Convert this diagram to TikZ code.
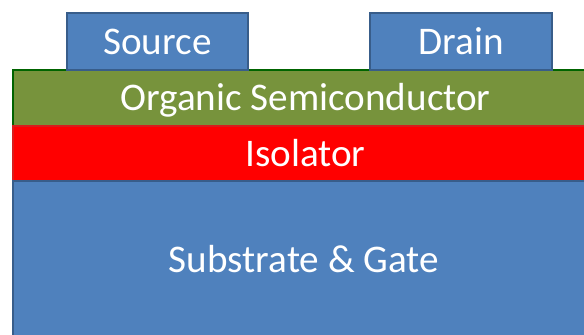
\documentclass[tikz,border=0pt]{standalone}
\usepackage{fontspec}
\setmainfont{Carlito}
\usetikzlibrary{positioning}
\definecolor{layblue}{HTML}{4F81BD}
\definecolor{layblueline}{HTML}{385D8A}
\definecolor{laygreen}{HTML}{77933C}
\definecolor{laygreenline}{HTML}{006400}
\definecolor{layred}{HTML}{FF0000}
\definecolor{layredline}{HTML}{C0302F}
\tikzset{
  labeltext/.style={text=white,font=\fontsize{39.3}{41}\selectfont,text height=31bp,text depth=6bp},
  layer/.style={draw,line width=1.5bp,minimum width=585bp,inner sep=0pt,outer sep=0pt,labeltext},
  contact/.style={layer,fill=layblue,draw=layblueline,minimum width=181bp,minimum height=57bp},
  semilayer/.style={layer,fill=laygreen,draw=laygreenline,minimum height=56bp},
  isolayer/.style={layer,fill=layred,draw=layredline!60!layred,minimum height=55bp},
  gatelayer/.style={layer,fill=layblue,draw=layblueline,minimum height=160bp},
}
\begin{document}
\begin{tikzpicture}[x=1bp,y=-1bp]
  \useasboundingbox (0,0) rectangle (584,334);
  \clip (0,0) rectangle (584,334);
  % stack of layers, top to bottom
  \node[semilayer,anchor=north west] (semi) at (13,70) {Organic Semiconductor};
  \node[isolayer,below=0pt of semi] (iso) {Isolator};
  \node[gatelayer,below=0pt of iso] (gate) {};
  \node[labeltext,inner sep=0pt] (gatetxt) at (304,260) {Substrate \& Gate};
  % contacts on top of the semiconductor
  \node[contact,anchor=south west] (src) at (67,70) {Source};
  \node[contact,anchor=south west,minimum width=182bp] (drn) at (370,70) {Drain};
\end{tikzpicture}
\end{document}
